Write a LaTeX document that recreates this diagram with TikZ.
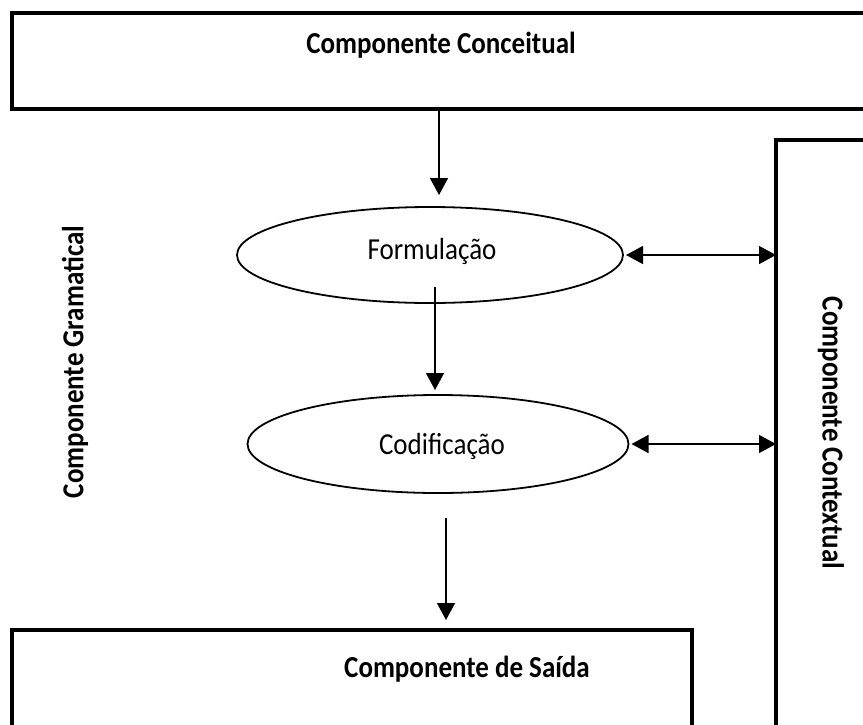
\documentclass[tikz,border=0pt]{standalone}
\usepackage{fontspec}
\setmainfont{Carlito}
\usetikzlibrary{arrows.meta,shapes.geometric}
\newcommand{\tallt}[1]{\scalebox{1}[1.13]{#1}}
\tikzset{
  bigbox/.style={draw, line width=4pt, rectangle, inner sep=0pt, outer sep=0pt},
  oval/.style={draw, line width=1.8pt, ellipse, inner sep=0pt, outer sep=0pt},
  ovaltext/.style={inner sep=0pt, font=\fontsize{27}{32}\selectfont},
  lbl/.style={font=\bfseries\fontsize{27}{32}\selectfont, inner sep=0pt, anchor=base},
  arr/.style={line width=1.5pt, -{Triangle[length=17pt,width=18pt]}},
  darr/.style={line width=1.5pt, {Triangle[length=17pt,width=18pt]}-{Triangle[length=17pt,width=18pt]}}
}
\begin{document}
\begin{tikzpicture}[x=1pt,y=-1pt]
\useasboundingbox (0,0) rectangle (863,724);
\clip (0,0) rectangle (863,724);
% boxes
\node[bigbox, minimum width=888pt, minimum height=96pt] (conc) at (456,61) {};
\node[bigbox, minimum width=124pt, minimum height=620pt] (ctx) at (838,450) {};
\node[bigbox, minimum width=680pt, minimum height=130pt] (said) at (352,695) {};
% labels
\node[lbl] (concl) at (441,53) {\tallt{Componente Conceitual}};
\node[lbl] (saidl) at (467,677) {\tallt{Componente de Saída}};
\node[font=\bfseries\fontsize{27}{32}\selectfont, inner sep=0pt, rotate=90] (gram) at (75,362) {\tallt{Componente Gramatical}};
\node[font=\bfseries\fontsize{27}{32}\selectfont, inner sep=0pt, rotate=-90] (ctxl) at (831,433) {\tallt{Componente Contextual}};
% ellipses
\node[oval, minimum width=386pt, minimum height=96pt] (form) at (430,255) {};
\node[oval, minimum width=381pt, minimum height=98pt] (cod) at (438,444) {};
\node[ovaltext] (formt) at (432,251) {\tallt{Formulação}};
\node[ovaltext] (codt) at (442,446) {\tallt{Codificação}};
% arrow endpoints
\coordinate (t1) at (439,195);
\coordinate (s2) at (435,287);
\coordinate (t2) at (435,390);
\coordinate (s3) at (446,518);
\coordinate (t3) at (446,620);
% connectors
\draw[arr] (conc.south -| t1) -- (t1);
\draw[arr] (s2) -- (t2);
\draw[arr] (s3) -- (t3);
\draw[darr] ([xshift=3pt]form.east) -- (ctx.west |- form.east);
\draw[darr] ([xshift=3pt]cod.east) -- (ctx.west |- cod.east);
\end{tikzpicture}
\end{document}
